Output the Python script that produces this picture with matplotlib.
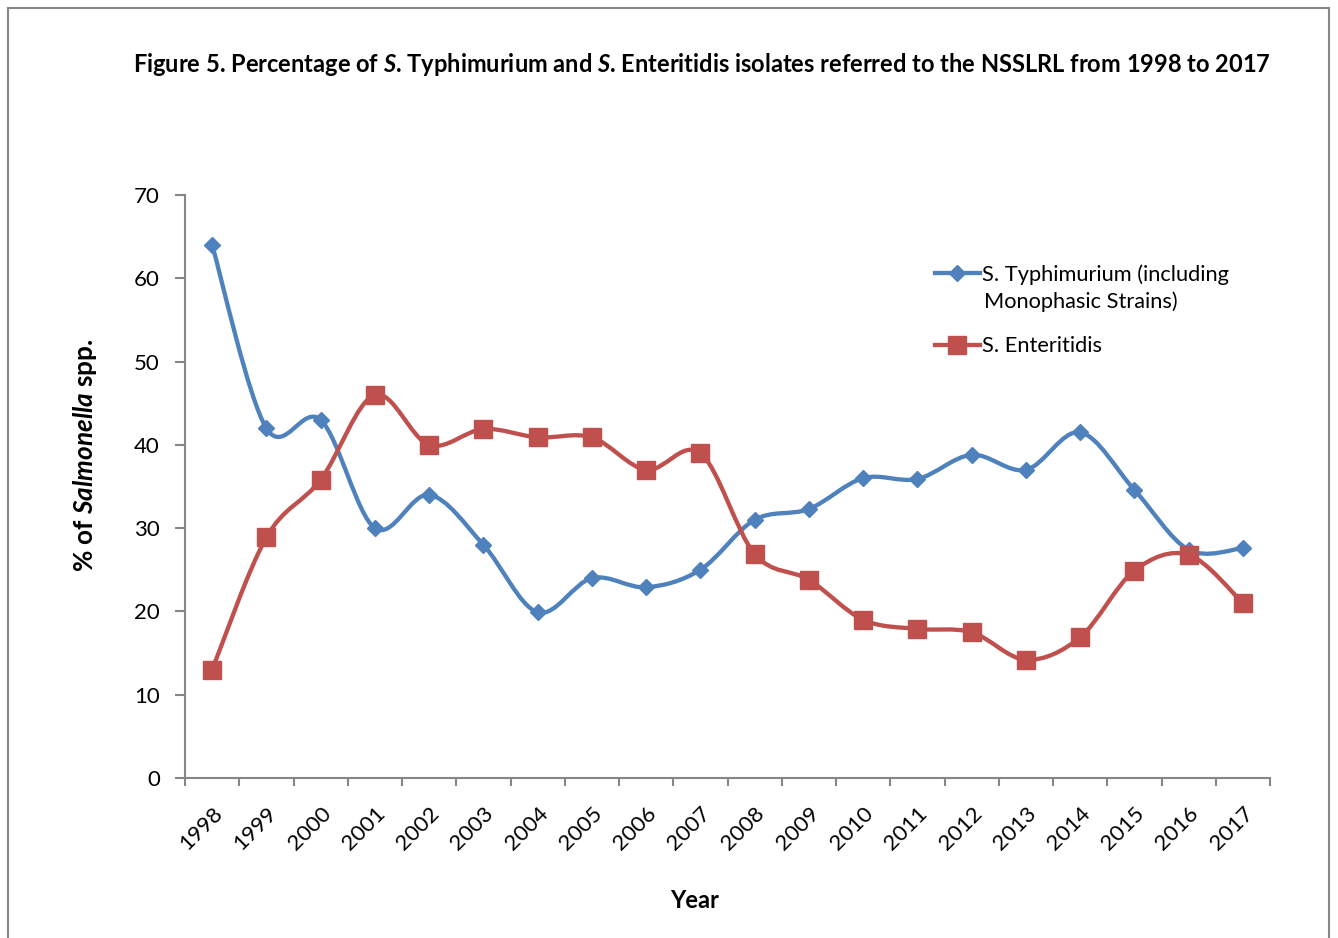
import numpy as np
import matplotlib
matplotlib.use("Agg")
import matplotlib.pyplot as plt
import matplotlib.transforms as mtransforms
from matplotlib.path import Path
from matplotlib.patches import PathPatch, Rectangle
from matplotlib.lines import Line2D

plt.rcParams['font.family'] = ['Lato', 'DejaVu Sans']
plt.rcParams['mathtext.fontset'] = 'custom'
plt.rcParams['mathtext.rm'] = 'Lato:bold'
plt.rcParams['mathtext.bf'] = 'Lato:bold'
plt.rcParams['mathtext.it'] = 'Lato:italic:bold'
plt.rcParams['mathtext.bfit'] = 'Lato:italic:bold'

years = [str(y) for y in range(1998, 2018)]
typhimurium = [64.0, 42.0, 43.0, 30.0, 34.0, 28.0, 19.9, 24.0, 22.9, 25.0,
               31.0, 32.3, 36.0, 35.9, 38.8, 37.0, 41.5, 34.6, 27.4, 27.6]
enteritidis = [13.0, 28.9, 35.8, 46.0, 40.0, 41.9, 40.9, 40.9, 37.0, 39.0,
               26.9, 23.8, 19.0, 17.9, 17.5, 14.2, 16.9, 24.9, 26.8, 21.0]

blue = '#4F81BD'
red = '#C0504D'
grey = '#868686'


def smooth_path(xs, ys):
    # Catmull-Rom style cubic Bezier through every point (smoothed line)
    pts = np.column_stack([xs, ys]).astype(float)
    n = len(pts)
    verts = [pts[0]]
    codes = [Path.MOVETO]
    for i in range(n - 1):
        p0 = pts[i - 1] if i > 0 else pts[i]
        p1 = pts[i]
        p2 = pts[i + 1]
        p3 = pts[i + 2] if i + 2 < n else pts[i + 1]
        c1 = p1 + (p2 - p0) / 6.0
        c2 = p2 - (p3 - p1) / 6.0
        verts += [c1, c2, p2]
        codes += [Path.CURVE4] * 3
    return Path(verts, codes)


fig = plt.figure(figsize=(13.38, 9.38), dpi=100)
ax = fig.add_axes([185 / 1338, 1 - 778 / 938, 1085 / 1338, 583 / 938])

x = np.arange(len(years))
for vals, col, mk, ms in [(typhimurium, blue, 'D', 8.5), (enteritidis, red, 's', 13)]:
    ax.add_patch(PathPatch(smooth_path(x, vals), facecolor='none',
                           edgecolor=col, lw=3.1, capstyle='round', zorder=2))
    ax.plot(x, vals, linestyle='none', marker=mk, markersize=ms,
            color=col, zorder=3)

ax.set_xlim(-0.5, len(years) - 0.5)
ax.set_ylim(0, 70)
ax.set_yticks(range(0, 71, 10))
ax.set_xticks(x)
ax.set_xticklabels(years, rotation=45, ha='right', va='top',
                   rotation_mode='anchor', fontsize=16)
shift = mtransforms.ScaledTranslation(-9 / 100, 0, fig.dpi_scale_trans)
for lab in ax.get_xticklabels():
    lab.set_transform(lab.get_transform() + shift)
ax.set_xticks(np.arange(-0.5, len(years)), minor=True)
ax.tick_params(axis='x', which='major', length=0, pad=18)
ax.tick_params(axis='x', which='minor', length=6, width=1.5, color=grey)
ax.tick_params(axis='y', length=7, width=1.5, color=grey, labelsize=16, pad=11)
for s in ['top', 'right']:
    ax.spines[s].set_visible(False)
for s in ['left', 'bottom']:
    ax.spines[s].set_color(grey)
    ax.spines[s].set_linewidth(1.5)

# legend: handles with line + marker, second line of the first label added below
handles = [
    Line2D([], [], color=blue, lw=3.1, marker='D', markersize=8.5),
    Line2D([], [], color=red, lw=3.1, marker='s', markersize=13),
]
labels = ['S. Typhimurium (including', 'S. Enteritidis']
fig.legend(handles, labels, loc='upper left', frameon=False,
           bbox_to_anchor=(935 / 1338, 1 - 264 / 938), fontsize=15.7,
           handlelength=2.05, handletextpad=0.12, labelspacing=2.37,
           borderpad=0, borderaxespad=0)
fig.text(984 / 1338, 1 - 302 / 938, 'Monophasic Strains)', ha='left',
         va='center', fontsize=15.7)

fig.text(702 / 1338, 1 - 65 / 938,
         r'Figure 5. Percentage of $\mathbfit{S}$. Typhimurium and $\mathbfit{S}$. '
         r'Enteritidis isolates referred to the NSSLRL from 1998 to 2017',
         ha='center', va='center', fontsize=17, fontweight='bold')
fig.text(85 / 1338, 1 - 455 / 938, r'% of $\mathbfit{Salmonella}$ spp.',
         rotation=90, ha='center', va='center', fontsize=18.8, fontweight='bold')
fig.text(695 / 1338, 1 - 900 / 938, 'Year', ha='center', va='center',
         fontsize=17, fontweight='bold')

fig.patches.append(Rectangle((8 / 1338, -0.05), 1321 / 1338, 1.05 - 8 / 938,
                             transform=fig.transFigure, fill=False,
                             edgecolor=grey, lw=1.5))

fig.savefig('out.png', dpi=100)
